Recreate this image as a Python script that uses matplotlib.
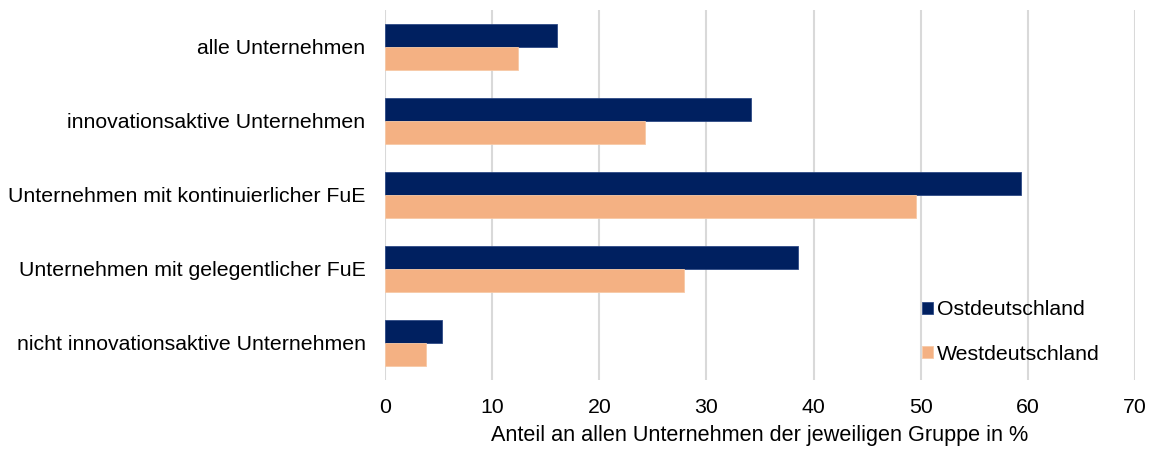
import matplotlib
matplotlib.use('Agg')
import matplotlib.pyplot as plt
import numpy as np

# Daten
kategorien = ['alle Unternehmen', 'innovationsaktive Unternehmen',
              'Unternehmen mit kontinuierlicher FuE',
              'Unternehmen mit gelegentlicher FuE',
              'nicht innovationsaktive Unternehmen']
ost = [16.1, 34.2, 59.4, 38.5, 5.3]
west = [12.4, 24.3, 49.6, 27.9, 3.8]
xticks = [0, 10, 20, 30, 40, 50, 60, 70]

plt.rcParams['font.family'] = ['Liberation Sans', 'DejaVu Sans']
plt.rcParams['font.size'] = 15.3

fig = plt.figure(figsize=(11.54, 4.5), dpi=100)
ax = fig.add_axes([0.3336, 0.1556, 0.65, 0.8222])

y = np.arange(len(kategorien))
h = 0.31
ax.barh(y - h / 2, ost, height=h, color='#002060', edgecolor='#2e4a86',
        linewidth=0.6, label='Ostdeutschland', zorder=3)
ax.barh(y + h / 2, west, height=h, color='#f4b183', edgecolor='#f7c9a6',
        linewidth=0.6, label='Westdeutschland', zorder=3)

ax.set_ylim(len(kategorien) - 0.5, -0.5)
ax.set_xlim(0, 70)
ax.set_xticks(xticks)
ax.set_yticks(y)
ax.set_yticklabels(kategorien)
ax.tick_params(axis='x', length=0, pad=13)
ax.tick_params(axis='y', length=0, pad=14)
ax.grid(axis='x', color='#d9d9d9', linewidth=1.5, zorder=0)
for s in ax.spines.values():
    s.set_visible(False)

ax.set_xlabel('Anteil an allen Unternehmen der jeweiligen Gruppe in %',
              fontsize=15.6, labelpad=6)

ax.legend(loc='upper left', bbox_to_anchor=(0.79, 0.356), bbox_transform=fig.transFigure,
          frameon=False, fontsize=15.3, borderpad=0, handlelength=0.52,
          handleheight=0.52, handletextpad=0.19, labelspacing=1.19)

fig.savefig('out.png', dpi=100)
